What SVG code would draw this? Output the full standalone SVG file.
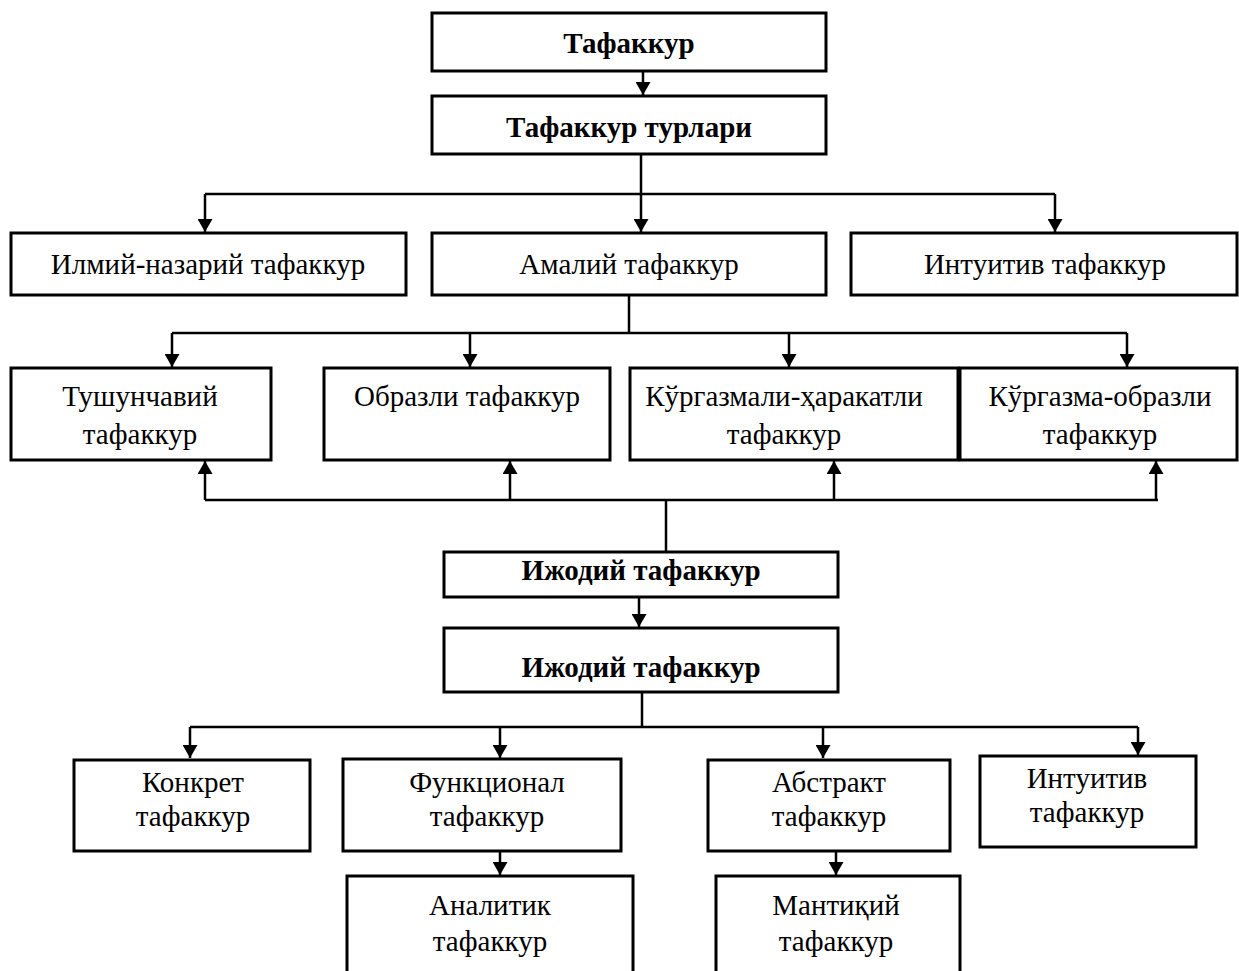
<svg xmlns="http://www.w3.org/2000/svg" width="1239" height="971" viewBox="0 0 1239 971">
<style>
.box{fill:#fff;stroke:#000;stroke-width:3}
.t{font-family:"Liberation Serif","Times New Roman",serif;font-size:29px;text-anchor:middle;fill:#000}
.b{font-weight:bold}
.ln{fill:none;stroke:#000;stroke-width:2.5}
</style>
<defs>
<marker id="ah" markerWidth="13" markerHeight="15" refX="13" refY="7.5" orient="auto" markerUnits="userSpaceOnUse">
<path d="M0,0 L13,7.5 L0,15 Z" fill="#000"/>
</marker>
</defs>
<rect width="1239" height="971" fill="#fff"/>
<g id="connectors">
<path class="ln" d="M643,71 V95" marker-end="url(#ah)"/>
<path class="ln" d="M641,154 V194"/>
<path class="ln" d="M205,194 H1055"/>
<path class="ln" d="M205,194 V232" marker-end="url(#ah)"/>
<path class="ln" d="M641,194 V232" marker-end="url(#ah)"/>
<path class="ln" d="M1055,194 V232" marker-end="url(#ah)"/>
<path class="ln" d="M629,295 V333"/>
<path class="ln" d="M172,333 H1127"/>
<path class="ln" d="M172,333 V367" marker-end="url(#ah)"/>
<path class="ln" d="M470,333 V367" marker-end="url(#ah)"/>
<path class="ln" d="M789,333 V367" marker-end="url(#ah)"/>
<path class="ln" d="M1127,333 V367" marker-end="url(#ah)"/>
<path class="ln" d="M666,552 V500"/>
<path class="ln" d="M205,500 H1158"/>
<path class="ln" d="M205,500 V461" marker-end="url(#ah)"/>
<path class="ln" d="M510,500 V461" marker-end="url(#ah)"/>
<path class="ln" d="M834,500 V461" marker-end="url(#ah)"/>
<path class="ln" d="M1156,500 V461" marker-end="url(#ah)"/>
<path class="ln" d="M639,597 V627" marker-end="url(#ah)"/>
<path class="ln" d="M642,692 V727"/>
<path class="ln" d="M190,727 H1138"/>
<path class="ln" d="M190,727 V758" marker-end="url(#ah)"/>
<path class="ln" d="M500,727 V758" marker-end="url(#ah)"/>
<path class="ln" d="M823,727 V758" marker-end="url(#ah)"/>
<path class="ln" d="M1138,727 V755" marker-end="url(#ah)"/>
<path class="ln" d="M500,851 V875" marker-end="url(#ah)"/>
<path class="ln" d="M836,851 V875" marker-end="url(#ah)"/>
</g>
<g id="n1"><rect class="box" x="432" y="13" width="394" height="58"/><text class="t b" x="629" y="53">Тафаккур</text></g>
<g id="n2"><rect class="box" x="432" y="96" width="394" height="58"/><text class="t b" x="629" y="137">Тафаккур турлари</text></g>
<g id="n3"><rect class="box" x="11" y="233" width="395" height="62"/><text class="t" x="208" y="274">Илмий-назарий тафаккур</text></g>
<g id="n4"><rect class="box" x="432" y="233" width="394" height="62"/><text class="t" x="629" y="274">Амалий тафаккур</text></g>
<g id="n5"><rect class="box" x="851" y="233" width="386" height="62"/><text class="t" x="1045" y="274">Интуитив тафаккур</text></g>
<g id="n6"><rect class="box" x="11" y="368" width="260" height="92"/><text class="t" x="140" y="406">Тушунчавий</text><text class="t" x="140" y="444">тафаккур</text></g>
<g id="n7"><rect class="box" x="324" y="368" width="286" height="92"/><text class="t" x="467" y="406">Образли тафаккур</text></g>
<g id="n8"><rect class="box" x="630" y="368" width="328" height="92"/><text class="t" x="784" y="406">Кўргазмали-ҳаракатли</text><text class="t" x="784" y="444">тафаккур</text></g>
<g id="n9"><rect class="box" x="960" y="368" width="277" height="92"/><text class="t" x="1100" y="406">Кўргазма-образли</text><text class="t" x="1100" y="444">тафаккур</text></g>
<g id="n10"><rect class="box" x="444" y="552" width="394" height="45"/><text class="t b" x="641" y="580">Ижодий тафаккур</text></g>
<g id="n11"><rect class="box" x="444" y="628" width="394" height="64"/><text class="t b" x="641" y="677">Ижодий тафаккур</text></g>
<g id="n12"><rect class="box" x="74" y="760" width="236" height="91"/><text class="t" x="193" y="792">Конкрет</text><text class="t" x="193" y="826">тафаккур</text></g>
<g id="n13"><rect class="box" x="343" y="759" width="278" height="92"/><text class="t" x="487" y="792">Функционал</text><text class="t" x="487" y="826">тафаккур</text></g>
<g id="n14"><rect class="box" x="708" y="760" width="242" height="91"/><text class="t" x="829" y="792">Абстракт</text><text class="t" x="829" y="826">тафаккур</text></g>
<g id="n15"><rect class="box" x="980" y="756" width="216" height="91"/><text class="t" x="1087" y="788">Интуитив</text><text class="t" x="1087" y="822">тафаккур</text></g>
<g id="n16"><rect class="box" x="347" y="876" width="286" height="110"/><text class="t" x="490" y="915">Аналитик</text><text class="t" x="490" y="951">тафаккур</text></g>
<g id="n17"><rect class="box" x="716" y="876" width="244" height="110"/><text class="t" x="836" y="915">Мантиқий</text><text class="t" x="836" y="951">тафаккур</text></g>
</svg>
